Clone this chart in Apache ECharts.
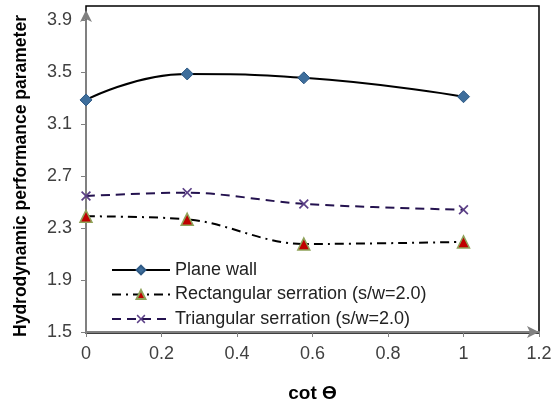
<!DOCTYPE html>
<html>
<head>
<meta charset="utf-8">
<script src="https://cdn.jsdelivr.net/npm/echarts@6/dist/echarts.min.js"></script>
<style>html,body{margin:0;padding:0;background:#fff;}#c{width:559px;height:408px;}</style>
</head>
<body>
<div id="c"></div>
<script>
var cotTheta = [0, 0.268, 0.577, 1];
var planeWall = [3.285, 3.485, 3.455, 3.31];
var rectangular = [2.39, 2.367, 2.177, 2.193];
var triangular = [2.546, 2.572, 2.485, 2.44];
var seriesNames = ['Plane wall', 'Rectangular serration (s/w=2.0)', 'Triangular serration (s/w=2.0)'];
var xTitle = 'cot \u03F4';
var yTitle = 'Hydrodynamic performance parameter';

function pairs(xs, ys) { return xs.map(function (x, i) { return [x, ys[i]]; }); }

var xMark = 'path://M0,1.2 L1.2,0 L5,3.8 L8.8,0 L10,1.2 L6.2,5 L10,8.8 L8.8,10 L5,6.2 L1.2,10 L0,8.8 L3.8,5 Z';
var font = 'Liberation Sans';

var chart = echarts.init(document.getElementById('c'), null, { renderer: 'canvas' });
chart.setOption({
  animation: false,
  backgroundColor: '#fff',
  grid: [
    { left: 86, right: 20, top: 20, bottom: 75, show: false },
    { left: 86, right: 20, top: 6, bottom: 75, show: true, borderColor: '#000', borderWidth: 1.5, backgroundColor: 'transparent' }
  ],
  legend: {
    orient: 'vertical', left: 106, top: 256,
    itemWidth: 58, itemHeight: 11, itemGap: 6.5,
    textStyle: { fontFamily: font, fontSize: 18, color: '#222', lineHeight: 18 },
    data: seriesNames
  },
  xAxis: [{
    type: 'value', gridIndex: 0, min: 0, max: 1.2, interval: 0.2,
    name: xTitle, nameLocation: 'middle', nameGap: 52,
    nameTextStyle: { fontFamily: font, fontSize: 19, fontWeight: 'bold', color: '#000' },
    axisLine: { show: true, lineStyle: { color: '#808080', width: 2 }, symbol: ['none', 'arrow'], symbolSize: [9, 12] },
    axisTick: { show: true, length: 5, lineStyle: { color: '#808080', width: 1 } },
    axisLabel: { fontFamily: font, fontSize: 18, color: '#404040', margin: 13,
      formatter: function (v) { return String(Math.round(v * 10) / 10); } },
    splitLine: { show: false }
  }, { gridIndex: 1, type: 'value', show: false, min: 0, max: 1 }],
  yAxis: [{
    type: 'value', gridIndex: 0, min: 1.5, max: 3.9, interval: 0.4,
    name: yTitle, nameLocation: 'middle', nameGap: 56,
    nameTextStyle: { fontFamily: font, fontSize: 17.5, fontWeight: 'bold', color: '#000' },
    axisLine: { show: true, lineStyle: { color: '#808080', width: 2 }, symbol: ['none', 'arrow'], symbolSize: [9, 12], symbolOffset: [0, 10] },
    axisTick: { show: true, length: 5, lineStyle: { color: '#808080', width: 1 } },
    axisLabel: { fontFamily: font, fontSize: 18, color: '#404040', margin: 14,
      formatter: function (v) { return v.toFixed(1); } },
    splitLine: { show: false }
  }, { gridIndex: 1, type: 'value', show: false, min: 0, max: 1 }],
  series: [
    {
      name: seriesNames[0], type: 'line', xAxisIndex: 0, yAxisIndex: 0,
      data: pairs(cotTheta, planeWall), smooth: 0.5,
      lineStyle: { color: '#000', width: 2 },
      symbol: 'diamond', symbolSize: 12,
      itemStyle: { color: '#3E6E9C', borderColor: '#2F5A85', borderWidth: 1 }
    },
    {
      name: seriesNames[1], type: 'line', xAxisIndex: 0, yAxisIndex: 0,
      data: pairs(cotTheta, rectangular), smooth: 0.35,
      lineStyle: { color: '#000', width: 2, type: [9, 5, 2, 5] },
      symbol: 'triangle', symbolSize: 12,
      itemStyle: { color: '#C00000', borderColor: '#8FA35A', borderWidth: 1.5 }
    },
    {
      name: seriesNames[2], type: 'line', xAxisIndex: 0, yAxisIndex: 0,
      data: pairs(cotTheta, triangular), smooth: 0.3,
      lineStyle: { color: '#24124F', width: 2, type: [9, 6] },
      symbol: xMark, symbolSize: 10,
      itemStyle: { color: '#5B3F86', borderWidth: 0 }
    }
  ]
});
</script>
</body>
</html>
